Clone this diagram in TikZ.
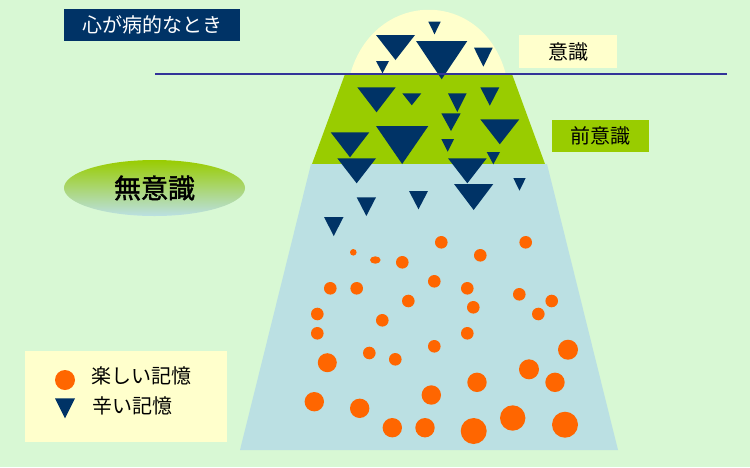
\documentclass[tikz,border=0pt]{standalone}
\usepackage{fontspec}
\newfontfamily\jpfont{Noto Sans CJK JP}
\newfontfamily\jpheavy[FakeBold=1.6]{Noto Sans CJK JP}
\usetikzlibrary{shapes.geometric}
\definecolor{bgGreen}{RGB}{216,248,212}
\definecolor{navy}{RGB}{0,51,102}
\definecolor{paleYellow}{RGB}{255,255,204}
\definecolor{leafGreen}{RGB}{153,204,0}
\definecolor{paleBlue}{RGB}{187,224,227}
\definecolor{happyOrange}{RGB}{255,102,0}
\definecolor{lineBlue}{RGB}{51,51,153}
\tikzset{
  sad/.style={fill=navy},
  happy/.style={fill=happyOrange},
  jptext/.style={inner sep=0pt,font=\jpfont\fontsize{20}{24}\selectfont},
  labelbox/.style={jptext,minimum width=98pt,minimum height=33pt},
}
\begin{document}
\begin{tikzpicture}[x=1pt,y=-1pt]
\useasboundingbox (0,0) rectangle (750,467);
\fill[bgGreen] (0,0) rectangle (750,467);
% iceberg: conscious, preconscious, unconscious
\fill[paleYellow] (350,75) .. controls (374,-12) and (484,-12) .. (506,75) -- cycle;
\fill[leafGreen] (345,74) -- (512,74) -- (545,164) -- (312,164) -- cycle;
\fill[paleBlue] (311,164) -- (547,164) -- (618,450) -- (240,450) -- cycle;
% painful memories
\foreach \xl/\xr/\yt/\yb in {428.3/440.7/21.7/34.3, 376/415/35/60, 416/467.3/41/79.3,
  474/492.7/47.7/66.7, 376/389/61/73.3, 357.3/395.7/87.3/112.3, 402.3/421.3/93.3/105.3,
  448/466.7/93.3/112, 480.3/499.3/87.3/105.7, 441.3/460.7/113.3/131, 480.3/519.3/119.3/144.3,
  330.7/369.3/132.3/157.3, 376/428.3/126/164, 441.3/454/139/151.7, 337.3/376/158.3/183.3,
  448/486.7/158.3/183.3, 486.7/500/152/164.3, 454/493.3/184/210, 513.3/525.7/178/190.7,
  356.7/376/197.3/216, 409/428/191/209.3, 324/343.5/217/236}
  \fill[sad] (\xl,\yt) -- (\xr,\yt) -- ({(\xl+\xr)/2},\yb) -- cycle;
% happy memories
\foreach \cx/\cy/\r in {441.3/242.3/6.3, 525.7/242.3/6.3, 353.3/252.3/3.3, 402.3/262.3/6.3,
  480.3/255.3/6.3, 330.3/288.3/6.3, 356.7/288.3/6.3, 434.3/281.3/6.3, 467.3/288.3/6.3,
  519.3/294.3/6.3, 551.7/301/6.3, 408.3/301/6.3, 473.3/307.3/6.3, 538.3/314/6.3,
  317.3/314/6.3, 382.3/320.3/6.3, 317.3/333.3/6.3, 467.3/333.3/6.3, 434.3/346.3/6.3,
  369.3/353/6.3, 395.3/359.3/6.3, 327.3/362.7/9.5, 568/349.7/10, 529/369.3/10,
  477/382.3/9.7, 555/382.3/9.7, 431.3/395/9.7, 314.3/401.7/9.7, 359.7/408.3/9.7,
  392.3/427.7/9.7, 425/427.7/9.7, 473.7/431/13, 512.7/418/12.7, 565/424.7/13}
  \fill[happy] (\cx,\cy) circle (\r pt);
\fill[happy] (375.3,260) ellipse [x radius=5.3pt,y radius=3.7pt];
% water surface
\coordinate (surfaceL) at (155,74);
\coordinate (surfaceR) at (727,74);
\draw[lineBlue,line width=2pt] (surfaceL) -- (surfaceR);
% labels
\node (title) [jptext,fill=navy,text=white,minimum width=176pt,minimum height=32pt] at (152,25) {心が病的なとき};
\node (conscious) [labelbox,fill=paleYellow] at (568,51.5) {意識};
\node (preconscious) [labelbox,fill=leafGreen,minimum width=97pt,minimum height=32pt] at (600.5,136) {前意識};
\node (unconscious) [ellipse,jptext,font=\jpheavy\fontsize{27}{30}\selectfont,
  minimum width=181pt,minimum height=56pt,top color=leafGreen,bottom color=paleBlue] at (154.5,188) {無意識};
% legend
\node (legend) [fill=paleYellow,minimum width=202pt,minimum height=91pt,inner sep=0pt] at (126,396.5) {};
\fill[happy] (65,380) circle (10pt);
\fill[sad] (55,398.3) -- (75,398.3) -- (65,418.3) -- cycle;
\node (happyKey) [jptext,anchor=west] at (91,376) {楽しい記憶};
\node (sadKey) [jptext,anchor=west] at (92,405.5) {辛い記憶};
\end{tikzpicture}
\end{document}
